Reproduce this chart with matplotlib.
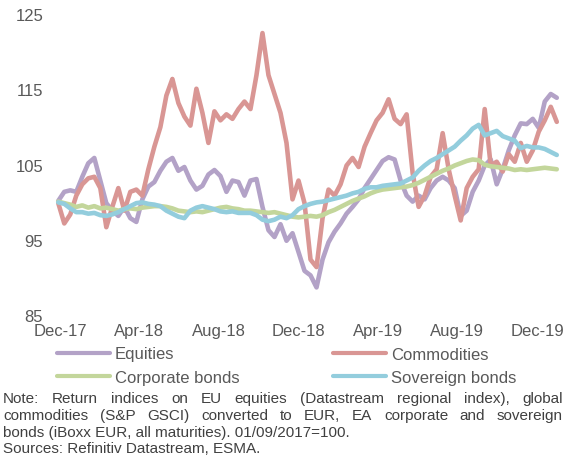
import numpy as np
import pandas as pd
import matplotlib
matplotlib.use('Agg')
import matplotlib.pyplot as plt
from matplotlib.lines import Line2D

# Return indices, roughly every 9 days from end-Nov 2017 to end-Dec 2019
equities = [
    100.3, 101.5, 101.7, 101.5, 103.5, 105.3, 106.0, 103.0, 100.0, 99.0, 98.3, 99.5,
    98.0, 97.5, 100.5, 102.2, 102.8, 104.3, 105.5, 106.0, 104.3, 104.8, 103.0, 101.8,
    102.3, 103.8, 104.4, 103.6, 101.5, 103.0, 102.8, 101.0, 103.0, 103.2, 99.5, 96.4,
    95.5, 97.2, 95.0, 96.0, 93.5, 91.0, 90.4, 88.8, 92.5, 94.8, 96.2, 97.3,
    98.6, 99.5, 100.5, 102.0, 103.2, 104.4, 105.6, 106.1, 105.8, 103.0, 101.0, 100.2,
    101.0, 100.5, 102.0, 103.0, 103.5, 103.0, 102.0, 98.3, 99.0, 101.5, 103.0, 105.0,
    105.8, 102.5, 104.5, 107.0, 109.0, 110.6, 110.5, 111.2, 110.0, 113.5, 114.5, 114.0,
]
commodities = [
    100.0, 97.3, 98.5, 101.0, 102.5, 103.3, 103.5, 102.0, 96.8, 99.5, 102.0, 99.0,
    101.5, 101.8, 101.0, 104.5, 107.5, 110.1, 114.3, 116.5, 113.3, 111.5, 110.3, 115.2,
    112.0, 108.0, 112.2, 111.0, 111.8, 111.2, 112.5, 113.5, 112.5, 117.0, 122.6, 117.0,
    114.5, 112.0, 108.0, 100.5, 103.0, 100.0, 92.5, 91.5, 98.0, 101.8, 101.0, 102.5,
    105.0, 106.0, 104.8, 107.5, 109.3, 111.0, 112.0, 113.8, 111.2, 110.5, 111.8, 104.0,
    99.5, 101.0, 103.5, 104.5, 109.3, 104.5, 101.0, 97.7, 102.0, 103.5, 104.5, 112.5,
    105.0, 105.5, 104.2, 106.5, 105.5, 108.0, 105.5, 107.0, 109.5, 111.0, 112.8, 110.8,
]
corporate = [
    100.2, 100.0, 99.8, 99.5, 99.7, 99.4, 99.6, 99.3, 99.4, 99.2, 99.0, 99.2,
    99.3, 99.2, 99.4, 99.5, 99.6, 99.6, 99.5, 99.3, 99.0, 98.9, 98.8, 98.9,
    98.8, 99.0, 99.2, 99.4, 99.5, 99.3, 99.2, 99.0, 99.0, 98.9, 98.8, 98.7,
    98.8, 98.6, 98.4, 98.2, 98.1, 98.2, 98.3, 98.2, 98.4, 98.8, 99.1, 99.5,
    99.9, 100.3, 100.6, 100.9, 101.3, 101.6, 101.8, 101.9, 102.0, 102.1, 102.2, 102.4,
    102.7, 103.1, 103.5, 103.9, 104.3, 104.6, 105.0, 105.3, 105.6, 105.8, 105.7, 105.1,
    104.9, 104.8, 104.7, 104.6, 104.4, 104.5, 104.4, 104.5, 104.6, 104.7, 104.6, 104.5,
]
sovereign = [
    100.1, 99.9, 99.3, 98.8, 98.8, 98.6, 98.7, 98.4, 98.3, 98.5, 98.8, 99.2,
    99.6, 100.0, 100.1, 99.9, 99.8, 99.6, 99.0, 98.6, 98.2, 98.0, 99.0, 99.4,
    99.6, 99.4, 99.2, 98.9, 98.8, 98.9, 98.7, 98.7, 98.7, 98.4, 97.8, 97.6,
    97.8, 98.2, 98.0, 98.4, 99.2, 99.6, 99.9, 100.1, 100.2, 100.4, 100.6, 100.8,
    101.0, 101.3, 101.5, 101.9, 102.1, 102.1, 102.3, 102.4, 102.5, 102.6, 103.0, 103.4,
    104.3, 105.0, 105.6, 106.0, 106.5, 107.0, 107.5, 108.3, 109.0, 109.9, 110.4, 109.0,
    109.3, 109.6, 108.9, 108.6, 108.3, 107.3, 107.6, 107.4, 107.4, 107.2, 106.8, 106.4,
]
dates = pd.date_range('2017-11-28', '2019-12-31', periods=len(equities))

series_names = ['Equities', 'Commodities', 'Corporate bonds', 'Sovereign bonds']
series_vals = [equities, commodities, corporate, sovereign]
colors = ['#B3A2C7', '#D99694', '#C3D69B', '#93CDDD']

tick_dates = pd.to_datetime(['2017-12-01', '2018-04-01', '2018-08-01', '2018-12-01',
                             '2019-04-01', '2019-08-01', '2019-12-01'])
tick_labels = ['Dec-17', 'Apr-18', 'Aug-18', 'Dec-18', 'Apr-19', 'Aug-19', 'Dec-19']
y_ticks = [85, 95, 105, 115, 125]

note_lines = [
    'Note: Return indices on EU equities (Datastream regional index), global',
    'commodities (S&P GSCI) converted to EUR, EA corporate and sovereign',
    'bonds (iBoxx EUR, all maturities). 01/09/2017=100.',
    'Sources: Refinitiv Datastream, ESMA.',
]

plt.rcParams['font.family'] = ['Liberation Sans', 'DejaVu Sans']

W, H = 567, 461
fig = plt.figure(figsize=(W / 100, H / 100), dpi=100)
ax = fig.add_axes([55 / W, (H - 316) / H, 507 / W, 301 / H])

for name, vals, col in zip(series_names, series_vals, colors):
    ax.plot(dates, vals, color=col, lw=3.3, solid_joinstyle='round', solid_capstyle='round')

ax.set_xlim(pd.Timestamp('2017-11-23'), pd.Timestamp('2020-01-08'))
ax.set_ylim(85, 125)
ax.set_yticks(y_ticks)
ax.set_xticks(tick_dates)
ax.set_xticklabels(tick_labels)
for s in ax.spines.values():
    s.set_visible(False)
ax.tick_params(axis='both', length=0, labelsize=12, labelcolor='#595959')
ax.tick_params(axis='y', pad=8.5)
ax.tick_params(axis='x', pad=5.5)

# legend drawn by hand, two columns
leg_pos = [(57, 353), (333, 353), (57, 376), (333, 376)]
for (lx, ly), name, col in zip(leg_pos, series_names, colors):
    fig.add_artist(Line2D([lx / W, (lx + 53) / W], [1 - ly / H, 1 - ly / H],
                          color=col, lw=3.0, solid_capstyle='round'))
    fig.text((lx + 58) / W, 1 - (ly + 2) / H, name, fontsize=12, color='#595959',
             va='center', ha='left')

# note text, first two lines justified
renderer = fig.canvas.get_renderer()
note_y = [399, 416, 433, 449]
x0, x1 = 3, 563
for i, (line, ny) in enumerate(zip(note_lines, note_y)):
    if i < 2:
        words = line.split()
        arts = [fig.text(0, 1 - ny / H, w, fontsize=11, color='#404040', va='center')
                for w in words]
        widths = [a.get_window_extent(renderer).width for a in arts]
        gap = (x1 - x0 - sum(widths)) / (len(words) - 1)
        x = x0
        for a, w in zip(arts, widths):
            a.set_x(x / W)
            x += w + gap
    else:
        fig.text(x0 / W, 1 - ny / H, line, fontsize=11, color='#404040', va='center')

fig.savefig('out.png', dpi=100)
